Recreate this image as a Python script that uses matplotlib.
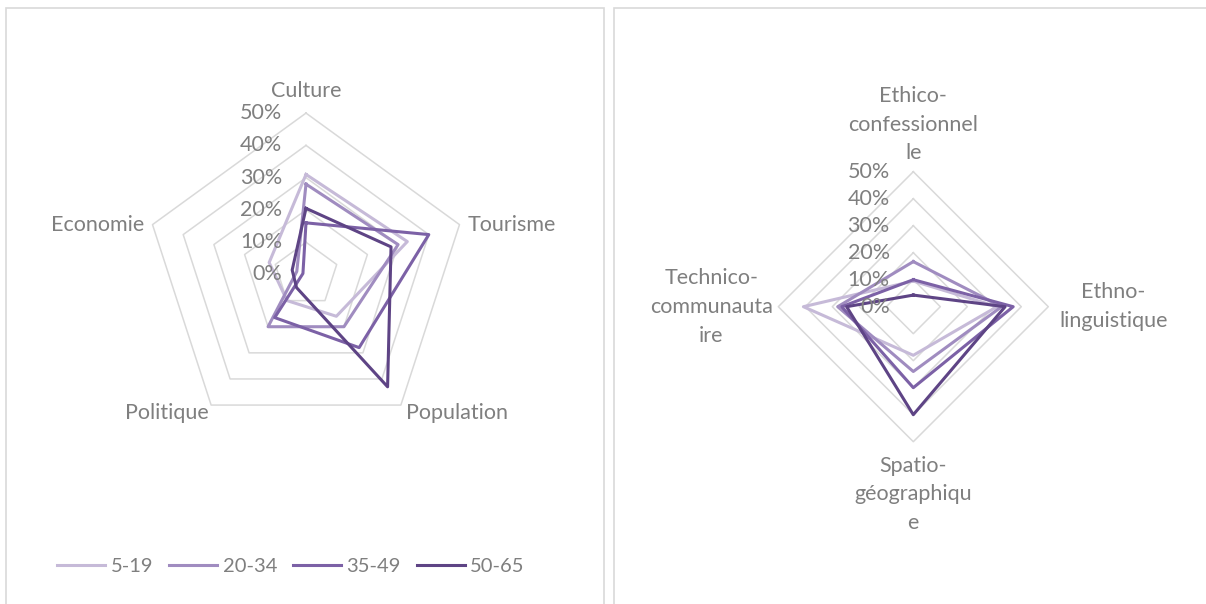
import numpy as np
import matplotlib

matplotlib.use("Agg")
import matplotlib.pyplot as plt
from matplotlib.patches import Rectangle

# left chart: thematic fields
themes = ["Culture", "Tourisme", "Population", "Politique", "Economie"]
theme_5_19 = [31, 33, 16, 10, 12]
theme_20_34 = [28, 30, 20, 20, 3]
theme_35_49 = [16, 40, 28, 16.5, 1]
theme_50_65 = [20.5, 27.7, 43, 5, 4.5]

# right chart: identity dimensions
dimensions = [
    "Ethico-\nconfessionnel\nle",
    "Ethno-\nlinguistique",
    "Spatio-\ngéographiqu\ne",
    "Technico-\ncommunauta\nire",
]
dim_5_19 = [9.5, 31, 18, 40.7]
dim_20_34 = [16.7, 32.7, 24, 28]
dim_35_49 = [10, 37, 30, 26.5]
dim_50_65 = [4.3, 34, 40, 24.7]

age_groups = ["5-19", "20-34", "35-49", "50-65"]
ring_ticks = [0, 10, 20, 30, 40, 50]

COLORS = ["#c6bad8", "#a08cc0", "#7c61a6", "#5e4485"]
GRID = "#d9d9d9"
TEXT = "#7f7f7f"
FS = 15.5
W, H = 1206, 604


def radar(fig, center, radius, labels, series, label_offsets):
    cx, cy = center
    ax = fig.add_axes(
        [(cx - radius) / W, (H - cy - radius) / H, 2 * radius / W, 2 * radius / H],
        projection="polar",
    )
    ax.set_theta_zero_location("N")
    ax.set_theta_direction(-1)
    ax.set_ylim(0, ring_ticks[-1])
    ax.grid(False)
    ax.set_xticks([])
    ax.set_yticks([])
    ax.spines["polar"].set_visible(False)
    ax.patch.set_alpha(0)

    n = len(labels)
    theta = np.arange(n + 1) * 2 * np.pi / n

    for level in ring_ticks[1:]:
        ax.plot(theta, [level] * (n + 1), color=GRID, lw=1.1, clip_on=False, zorder=1)

    lines = []
    for values, color, name in zip(series, COLORS, age_groups):
        (ln,) = ax.plot(
            theta,
            list(values) + [values[0]],
            color=color,
            lw=2.2,
            label=name,
            clip_on=False,
            zorder=3,
        )
        lines.append(ln)

    for level in ring_ticks:
        ax.annotate(
            f"{level}%",
            xy=(0, level),
            xytext=(-17, 0),
            textcoords="offset points",
            ha="right",
            va="center",
            color=TEXT,
            fontsize=FS,
        )

    for i, label in enumerate(labels):
        t = theta[i]
        s, c = np.sin(t), np.cos(t)
        ha = "left" if s > 0.1 else ("right" if s < -0.1 else "center")
        va = "bottom" if c > 0.5 else ("top" if c < -0.9 else "center")
        dx, dy = label_offsets[i]
        ax.annotate(
            label,
            xy=(t, ring_ticks[-1]),
            xytext=(dx, dy),
            textcoords="offset points",
            ha=ha,
            va=va,
            multialignment="center",
            linespacing=1.55,
            color=TEXT,
            fontsize=FS,
        )
    return ax, lines


def main() -> None:
    plt.rcParams["font.family"] = ["Lato", "DejaVu Sans"]
    fig = plt.figure(figsize=(W / 100, H / 100), dpi=100)

    # panel frames
    for x0, x1 in [(6, 604), (614, 1230)]:
        fig.add_artist(
            Rectangle(
                (x0 / W, -0.1),
                (x1 - x0) / W,
                (H - 8) / H + 0.1,
                transform=fig.transFigure,
                fill=False,
                edgecolor=GRID,
                lw=1.2,
            )
        )

    _, lines = radar(
        fig,
        (306, 274.5),
        161.4,
        themes,
        [theme_5_19, theme_20_34, theme_35_49, theme_50_65],
        [(0, 9), (6, 0), (4, -6), (-2, -6), (-6, 0)],
    )
    radar(
        fig,
        (913.3, 306.7),
        135,
        dimensions,
        [dim_5_19, dim_20_34, dim_35_49, dim_50_65],
        [(0, 6), (8, 0), (0, -10), (-4, 0)],
    )

    fig.legend(
        handles=lines,
        loc="center",
        bbox_to_anchor=(291 / W, 1 - 566 / H),
        ncol=4,
        frameon=False,
        handlelength=2.4,
        handletextpad=0.25,
        columnspacing=0.8,
        labelcolor=TEXT,
        fontsize=14.5,
    )

    fig.savefig("out.png", dpi=100)


if __name__ == "__main__":
    main()
